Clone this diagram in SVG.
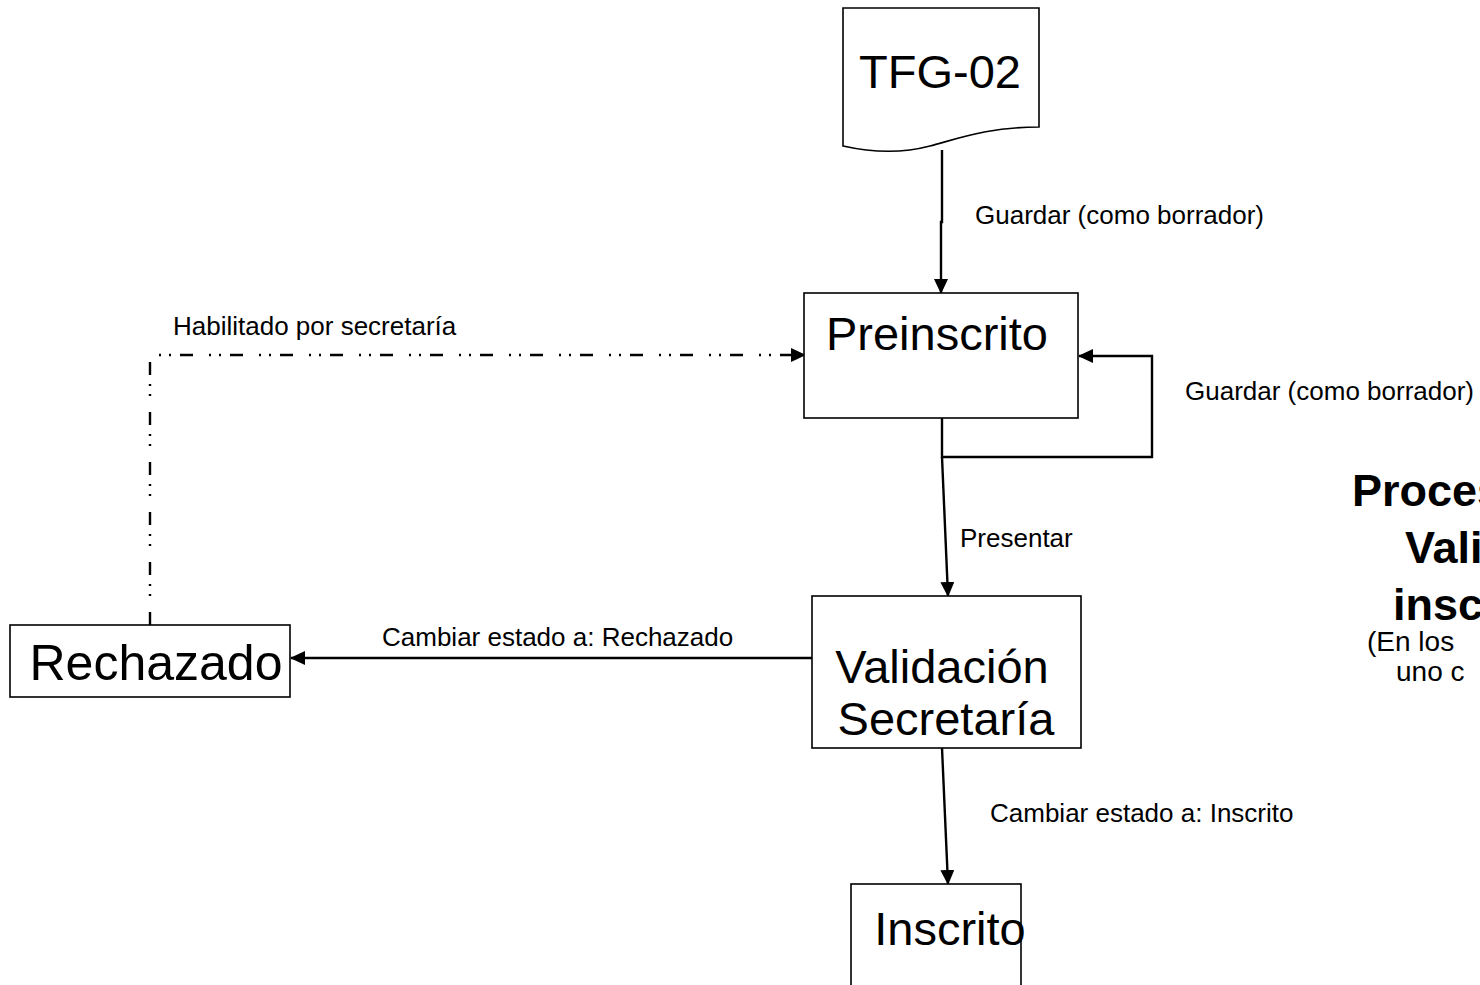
<svg xmlns="http://www.w3.org/2000/svg" width="1480" height="985" viewBox="0 0 1480 985">
<style>
.box{fill:#fff;stroke:#000;stroke-width:1.6}
.big{font-family:"Liberation Sans",Arial,sans-serif;font-size:47px;fill:#000}
.lbl{font-family:"Liberation Sans",Arial,sans-serif;font-size:26px;fill:#000}
.con{fill:none;stroke:#000;stroke-width:2.4}
.dash{fill:none;stroke:#000;stroke-width:2.4;stroke-dasharray:13 16 2 8 2 9}
.title{font-family:"Liberation Sans",Arial,sans-serif;font-size:45px;font-weight:bold;fill:#000}
.sub{font-family:"Liberation Sans",Arial,sans-serif;font-size:28px;fill:#000}
</style>
<defs>
<marker id="ah" markerWidth="15" markerHeight="14" refX="14" refY="7" orient="auto" markerUnits="userSpaceOnUse">
<path d="M0,0 L15,7 L0,14 Z" fill="#000"/>
</marker>
</defs>
<rect width="1480" height="985" fill="#fff"/>
<g id="connectors">
<path class="con" d="M942,150 L942,222 L941,222 L941,293" marker-end="url(#ah)"/>
<path class="con" d="M942,418 L942,457 L1152,457 L1152,356 L1079,356" marker-end="url(#ah)"/>
<path class="con" d="M942,457 L948,596" marker-end="url(#ah)"/>
<path class="con" d="M812,658 L291,658" marker-end="url(#ah)"/>
<path class="dash" d="M150,625 L150,355 L805,355" marker-end="url(#ah)"/>
<path class="con" d="M942,748 L948,884" marker-end="url(#ah)"/>
</g>
<g id="labels">
<text class="lbl" x="975" y="224">Guardar (como borrador)</text>
<text class="lbl" x="173" y="335">Habilitado por secretaría</text>
<text class="lbl" x="1185" y="400">Guardar (como borrador)</text>
<text class="lbl" x="960" y="547">Presentar</text>
<text class="lbl" x="382" y="646">Cambiar estado a: Rechazado</text>
<text class="lbl" x="990" y="822">Cambiar estado a: Inscrito</text>
</g>
<g id="tfg02">
<path class="box" d="M843,8 L1039,8 L1039,127 C990,127 960,138 930,146 C900,154 870,152 843,146 Z"/>
<text class="big" x="940" y="88" text-anchor="middle">TFG-02</text>
</g>
<g id="preinscrito">
<rect class="box" x="804" y="293" width="274" height="125"/>
<text class="big" x="937" y="350" text-anchor="middle">Preinscrito</text>
</g>
<g id="validacion">
<rect class="box" x="812" y="596" width="269" height="152"/>
<text class="big" x="942" y="683" text-anchor="middle">Validación</text>
<text class="big" x="946" y="735" text-anchor="middle">Secretaría</text>
</g>
<g id="rechazado">
<rect class="box" x="10" y="625" width="280" height="72"/>
<text class="big" x="156" y="680" text-anchor="middle" style="font-size:50px">Rechazado</text>
</g>
<g id="inscrito">
<rect class="box" x="851" y="884" width="170" height="130"/>
<text class="big" x="950" y="945" text-anchor="middle">Inscrito</text>
</g>
<g id="title">
<text class="title" x="1352" y="506">Proceso</text>
<text class="title" x="1405" y="563">Validación</text>
<text class="title" x="1393" y="620">inscripción</text>
<text class="sub" x="1367" y="651">(En los</text>
<text class="sub" x="1396" y="681">uno c</text>
</g>
</svg>
